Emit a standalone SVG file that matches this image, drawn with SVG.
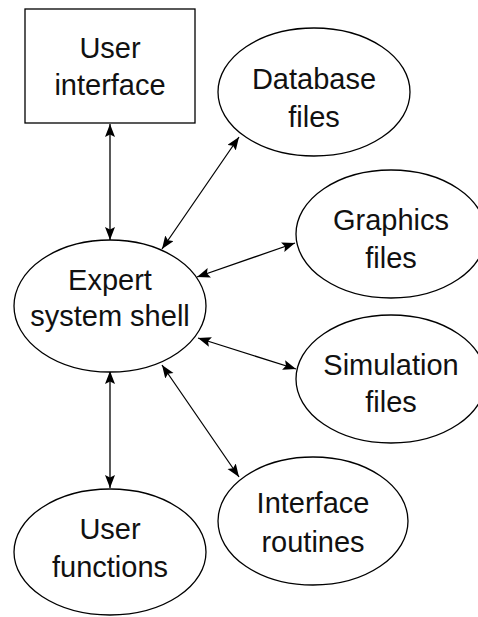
<svg xmlns="http://www.w3.org/2000/svg" width="478" height="617" viewBox="0 0 478 617">
<style>
.n{fill:#fff;stroke:#000;stroke-width:1.3}
.t{font-family:"Liberation Sans",Arial,sans-serif;font-size:29px;fill:#111;text-anchor:middle}
.c{stroke:#000;stroke-width:1.3;fill:none;marker-start:url(#a);marker-end:url(#a)}
</style>
<defs>
<marker id="a" markerUnits="userSpaceOnUse" markerWidth="14" markerHeight="11" refX="13" refY="5" orient="auto-start-reverse">
<path d="M0,0 L13,5 L0,10 L2.5,5 Z" fill="#000"/>
</marker>
</defs>
<g id="connectors">
<line class="c" x1="110" y1="240" x2="110" y2="124"/>
<line class="c" x1="162" y1="249" x2="239" y2="137"/>
<line class="c" x1="197" y1="277" x2="295" y2="243"/>
<line class="c" x1="198" y1="338" x2="296" y2="369"/>
<line class="c" x1="162" y1="365" x2="239" y2="477"/>
<line class="c" x1="110" y1="371" x2="110" y2="488"/>
</g>
<g id="user-interface">
<rect class="n" x="25" y="9" width="170" height="114"/>
<text class="t" x="110" y="58">User</text>
<text class="t" x="110" y="95">interface</text>
</g>
<g id="database-files">
<ellipse class="n" cx="314" cy="92" rx="96" ry="64"/>
<text class="t" x="314" y="89">Database</text>
<text class="t" x="314" y="127">files</text>
</g>
<g id="graphics-files">
<ellipse class="n" cx="391" cy="234" rx="95" ry="64"/>
<text class="t" x="391" y="230">Graphics</text>
<text class="t" x="391" y="268">files</text>
</g>
<g id="expert-system-shell">
<ellipse class="n" cx="110" cy="306" rx="96" ry="66"/>
<text class="t" x="110" y="290">Expert</text>
<text class="t" x="110" y="326">system shell</text>
</g>
<g id="simulation-files">
<ellipse class="n" cx="391" cy="379" rx="95" ry="64"/>
<text class="t" x="391" y="375">Simulation</text>
<text class="t" x="391" y="412">files</text>
</g>
<g id="interface-routines">
<ellipse class="n" cx="313" cy="521" rx="95" ry="64"/>
<text class="t" x="313" y="513">Interface</text>
<text class="t" x="313" y="552">routines</text>
</g>
<g id="user-functions">
<ellipse class="n" cx="110" cy="552" rx="96" ry="63"/>
<text class="t" x="110" y="539">User</text>
<text class="t" x="110" y="577">functions</text>
</g>
</svg>
